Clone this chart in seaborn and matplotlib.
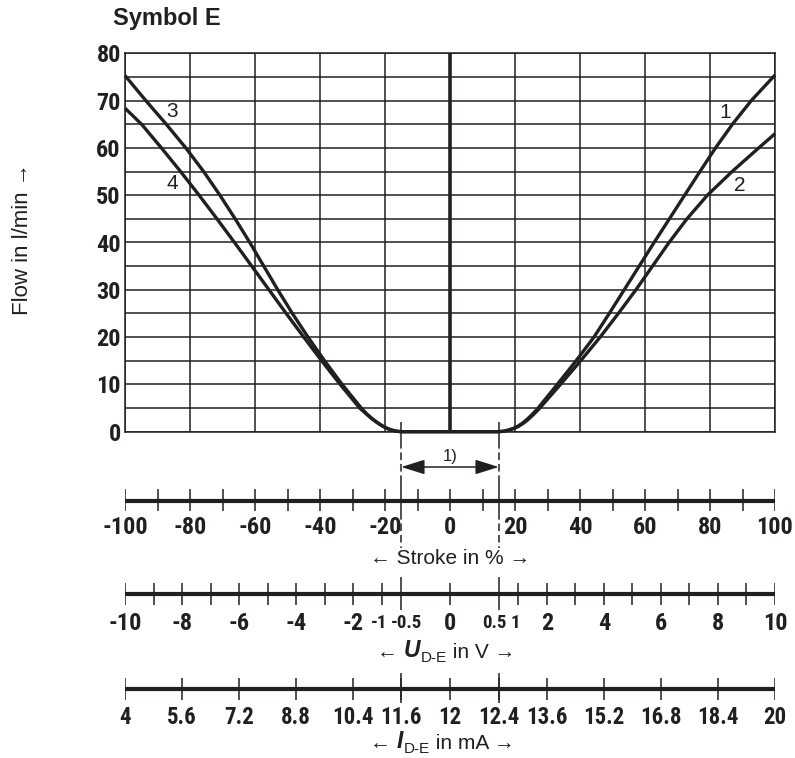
import numpy as np
import pandas as pd
import matplotlib
matplotlib.use("Agg")
import matplotlib.pyplot as plt
import seaborn as sns

# ---------------- data ----------------
stroke_1 = [0, 15, 16.5, 18, 19.5, 21, 22.5, 24, 25.5, 27, 33.0, 38.8, 44.3, 49.0, 53.6, 58.2, 62.8, 67.5,
            72.2, 76.9, 81.7, 86.9, 92.7, 100]
flow_1 = [0, 0, 0.1, 0.35, 0.7, 1.2, 1.9, 2.8, 3.8, 4.9, 10, 15, 20, 25, 30, 35, 40, 45,
          50, 55, 60, 65, 70, 75.4]

stroke_2 = [0, 15, 16.5, 18, 19.5, 21, 22.5, 24, 25.5, 27.5, 34.0, 40.2, 46.2, 51.8, 57.2, 62.3, 67.4, 72.9,
            79.2, 86.8, 95.0, 100]
flow_2 = [0, 0, 0.1, 0.33, 0.65, 1.1, 1.75, 2.55, 3.5, 4.9, 10, 15, 20, 25, 30, 35, 40, 45,
          50, 55, 60, 63]

stroke_3 = [-100, -93.6, -87.3, -81.3, -75.8, -70.8, -66.1, -61.6, -57.3, -53.0, -48.5, -43.7, -38.6,
            -33.2, -27.3, -25.5, -24, -22.5, -21, -19.5, -18, -16.5, -15, 0]
flow_3 = [75.3, 70, 65, 60, 55, 50, 45, 40, 35, 30, 25, 20, 15,
          10, 5, 3.7, 2.8, 2.0, 1.3, 0.75, 0.35, 0.1, 0, 0]

stroke_4 = [-100, -94.9, -88.8, -82.9, -77.2, -71.7, -66.3, -61.0, -55.7, -50.4, -45.0, -39.5, -33.8,
            -27.8, -25.5, -24, -22.5, -21, -19.5, -18, -16.5, -15, 0]
flow_4 = [68.4, 65, 60, 55, 50, 45, 40, 35, 30, 25, 20, 15, 10,
          5, 3.6, 2.7, 1.95, 1.3, 0.75, 0.35, 0.1, 0, 0]

curve_names = ["1", "2", "3", "4"]

flow_ticks = [0, 10, 20, 30, 40, 50, 60, 70, 80]

stroke_ticks = list(range(-100, 101, 10))
stroke_labels = [-100, -80, -60, -40, -20, 0, 20, 40, 60, 80, 100]
deadband_stroke = [-15, 15]

volt_ticks = list(range(-10, 11))
volt_long_ticks = [-0.5, 0.5]
volt_labels = ["-10", "-8", "-6", "-4", "-2", "-1", "-0.5", "0", "0.5", "1", "2", "4", "6", "8", "10"]
volt_label_values = [-10, -8, -6, -4, -2, -1, -0.5, 0, 0.5, 1, 2, 4, 6, 8, 10]
# scale relation voltage -> stroke (scale knots)
volt_knots = [-10, -1, -0.5, 0, 0.5, 1, 10]
stroke_knots = [-100, -21, -15, 0, 15, 21, 100]

current_labels = ["4", "5.6", "7.2", "8.8", "10.4", "11.6", "12", "12.4", "13.6", "15.2", "16.8", "18.4", "20"]
current_values = [4, 5.6, 7.2, 8.8, 10.4, 11.6, 12, 12.4, 13.6, 15.2, 16.8, 18.4, 20]
current_long = [11.6, 12.4]
# I = 12 mA + 0.8 mA/V * U
current_zero = 12.0
current_per_volt = 0.8

# ---------------- style ----------------
INK = "#231f20"
sns.set_style("white")
plt.rcParams["font.family"] = ["Liberation Sans", "DejaVu Sans"]
NARROW = ["Roboto Condensed", "Liberation Sans", "DejaVu Sans"]
REG = ["Liberation Sans", "DejaVu Sans"]

W, H = 795, 758
fig = plt.figure(figsize=(W / 100, H / 100), dpi=100)
fig.patch.set_facecolor("white")


def px_rect(l, t, r, b):
    return [l / W, 1 - b / H, (r - l) / W, (b - t) / H]


ax = fig.add_axes(px_rect(125, 53.3, 775, 431.7))
ax_b = fig.add_axes(px_rect(125, 415, 775, 758))

# ---------------- main chart ----------------
frames = []
for name, xs, ys in zip(curve_names, [stroke_1, stroke_2, stroke_3, stroke_4],
                        [flow_1, flow_2, flow_3, flow_4]):
    frames.append(pd.DataFrame({"stroke": xs, "flow": ys, "curve": name}))
df = pd.concat(frames, ignore_index=True)

sns.lineplot(data=df, x="stroke", y="flow", units="curve", estimator=None, sort=False,
             color=INK, lw=2.4, ax=ax, legend=False)
for ln in ax.get_lines():
    ln.set_clip_on(False)
    ln.set_solid_joinstyle("round")
    ln.set_solid_capstyle("butt")
    ln.set_zorder(4)

ax.axvline(0, color=INK, lw=2.6, zorder=3)

ax.set_xlim(-100, 100)
ax.set_ylim(0, 80)
ax.set_xticks(range(-100, 101, 20))
ax.set_xticklabels([])
ax.set_yticks(flow_ticks)
ax.set_yticks(range(5, 80, 10), minor=True)
ax.set_yticklabels([str(v) for v in flow_ticks])
for lab in ax.get_yticklabels():
    lab.set_fontfamily(NARROW)
    lab.set_fontweight("bold")
    lab.set_fontsize(17.5)
    lab.set_color(INK)
ax.tick_params(which="both", length=0, pad=3)
ax.grid(True, which="both", color=INK, lw=1.1)
ax.set_axisbelow(True)
for sp in ax.spines.values():
    sp.set_visible(True)
    sp.set_color(INK)
    sp.set_linewidth(1.1)
ax.set_xlabel("")
ax.set_ylabel("Flow in l/min →", fontsize=16, family=REG, color=INK)
ax.yaxis.set_label_coords(-0.158, 0.51)
ax.yaxis.label.set_verticalalignment("center")

# curve labels
for name, (lx, ly) in zip(curve_names, [(84.6, 67.4), (89.2, 52.1), (-85.5, 67.6), (-85.5, 52.5)]):
    ax.text(lx, ly, name, fontsize=15, family=REG, color=INK, ha="center", va="center", zorder=5)

fig.text(113 / W, 1 - 18 / H, "Symbol E", fontsize=17, fontweight="bold", family=REG,
         color=INK, ha="left", va="center")

# ---------------- scales below ----------------
ax_b.set_xlim(-100, 100)
ax_b.set_ylim(758, 415)
ax_b.axis("off")
ax_b.patch.set_visible(False)
ax_b.set_zorder(5)

lab_kw = dict(fontweight="bold", family=NARROW, color=INK, ha="center", va="center")
txt_kw = dict(fontsize=15, family=REG, color=INK)

# dead-band lines at +-15 % stroke
dash = (0, (5, 2.5))
ax_b.vlines(deadband_stroke, 422, 441, color=INK, lw=1.1, clip_on=False)
ax_b.vlines(deadband_stroke, 441, 480, color=INK, lw=1.1, linestyles=[dash], clip_on=False)
ax_b.vlines(deadband_stroke, 480, 512, color=INK, lw=1.1, clip_on=False)
ax_b.vlines(deadband_stroke, 512, 548, color=INK, lw=1.1, linestyles=[dash], clip_on=False)

ax_b.annotate("", xy=(deadband_stroke[0], 467), xytext=(deadband_stroke[1], 467),
              arrowprops=dict(arrowstyle="<|-|>,head_length=0.8,head_width=0.25", color=INK,
                              lw=1.1, shrinkA=0, shrinkB=0, mutation_scale=18))
ax_b.text(0, 456, "1)", fontsize=12, family=REG, color=INK, ha="center", va="center")

# stroke scale
ax_b.hlines(500.7, -100, 100, color=INK, lw=3.0)
ax_b.vlines(stroke_ticks, 489, 511, color=INK, lw=1.1)
for v in stroke_labels:
    ax_b.text(v, 527, str(v), fontsize=17.5, **lab_kw)
ax_b.text(0, 558, "← Stroke in % →", ha="center", va="center", **txt_kw)

# voltage scale
volt_pos = np.interp(volt_ticks, volt_knots, stroke_knots)
volt_long_pos = np.interp(volt_long_ticks, volt_knots, stroke_knots)
ax_b.hlines(594, -100, 100, color=INK, lw=3.0)
ax_b.vlines(volt_pos, 583, 605, color=INK, lw=1.1)
ax_b.vlines(volt_long_pos, 577, 610, color=INK, lw=1.1)
crowded = {"-1", "-0.5", "0.5", "1"}
nudge = {"-1": -0.8, "-0.5": 1.6, "0.5": -1.4, "1": -0.8}
for v, s in zip(np.interp(volt_label_values, volt_knots, stroke_knots), volt_labels):
    ax_b.text(v + nudge.get(s, 0), 623, s, fontsize=(13.5 if s in crowded else 17.5), **lab_kw)

# current scale
cur_volt = (np.array(current_values) - current_zero) / current_per_volt
cur_pos = np.interp(cur_volt, volt_knots, stroke_knots)
cur_long_pos = np.interp((np.array(current_long) - current_zero) / current_per_volt, volt_knots, stroke_knots)
ax_b.hlines(689, -100, 100, color=INK, lw=3.0)
ax_b.vlines(cur_pos, 678, 700, color=INK, lw=1.1)
ax_b.vlines(cur_long_pos, 673, 703, color=INK, lw=1.1)
for v, s in zip(cur_pos, current_labels):
    ax_b.text(v, 718, s, fontsize=16.5, **lab_kw)


def composite_label(x0, y_bottom, sym, unit):
    t0 = ax_b.text(x0, y_bottom, "← ", ha="left", va="bottom", **txt_kw)
    t1 = ax_b.annotate(sym, xy=(1, 0), xycoords=t0, ha="left", va="bottom",
                       fontsize=16.5, fontweight="bold", fontstyle="italic", family=REG, color=INK)
    t2 = ax_b.annotate("D-E", xy=(1, 0), xycoords=t1, xytext=(0.5, -2.0), textcoords="offset points",
                       ha="left", va="bottom", fontsize=11, family=REG, color=INK)
    ax_b.annotate(" in " + unit + " →", xy=(1, 0), xycoords=(t2, t0), ha="left", va="bottom", **txt_kw)


composite_label(-22.5, 662, "U", "V")
composite_label(-24.6, 753, "I", "mA")

fig.savefig("out.png", dpi=100, facecolor="white")
